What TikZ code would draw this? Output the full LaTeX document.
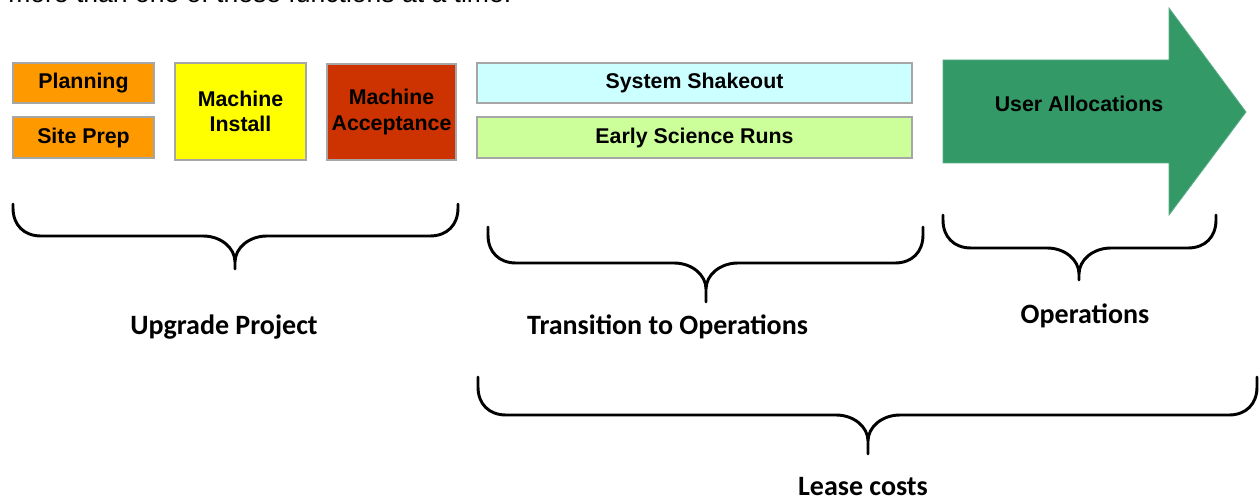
\documentclass[tikz,border=0pt]{standalone}
\usepackage{fontspec}
\setmainfont{Liberation Sans}
\newfontfamily\lblfont{Carlito}
\definecolor{orangeC}{HTML}{FF9900}
\definecolor{yellowC}{HTML}{FFFF00}
\definecolor{redC}{HTML}{CC3300}
\definecolor{cyanC}{HTML}{CCFFFF}
\definecolor{limeC}{HTML}{CCFF99}
\definecolor{greenC}{HTML}{339966}
\definecolor{borderC}{HTML}{A6A6A6}
\newcommand{\mybrace}[6]{% x0 x1 xm top line tip
  \draw[bracestyle] (#1,#4) -- (#1,{#5-28}) .. controls (#1,{#5-11}) and ({#1+11},#5) .. ({#1+28},#5)
    -- ({#3-32},#5) .. controls ({#3-14},#5) and (#3,{#5+12}) .. (#3,{#5+26}) -- (#3,#6)
    -- (#3,{#5+26}) .. controls (#3,{#5+12}) and ({#3+14},#5) .. ({#3+32},#5)
    -- ({#2-28},#5) .. controls ({#2-11},#5) and (#2,{#5-11}) .. (#2,{#5-28}) -- (#2,#4);}
\begin{document}
\begin{tikzpicture}[x=0.75pt,y=-0.75pt,
  box/.style={draw=borderC,line width=0.8pt,inner sep=0pt,align=center,
    font=\fontsize{16}{19}\selectfont\bfseries},
  bracestyle/.style={line width=2.2pt,line join=round,line cap=round},
  lbl/.style={inner sep=0pt,font=\lblfont\fontsize{21}{25}\selectfont\bfseries}]
\useasboundingbox (0,0) rectangle (1260,502);
\begin{scope}
\clip (0,0) rectangle (1260,502);
\node[anchor=base west,inner sep=0pt,font=\fontsize{19.9}{24}\selectfont] (top) at (8,3) {more than one of these functions at a time.};
\end{scope}
\node[box,fill=orangeC,minimum width=105.75pt,minimum height=30pt] (plan) at (83.5,83) {Planning};
\node[box,fill=orangeC,minimum width=105.75pt,minimum height=30.75pt] (site) at (83.5,137.5) {Site Prep};
\node[box,fill=yellowC,minimum width=98.25pt,minimum height=72.75pt] (inst) at (240.5,111.5) {Machine\\Install};
\node[box,fill=redC,minimum width=96.75pt,minimum height=72pt] (acc) at (391.5,112) {Machine\\Acceptance};
\node[box,fill=cyanC,minimum width=326.25pt,minimum height=30pt] (shake) at (694.5,83) {System Shakeout};
\node[box,fill=limeC,minimum width=326.25pt,minimum height=30.75pt] (early) at (694.5,137.5) {Early Science Runs};
\draw[fill=greenC,draw=greenC!80!white,line width=0.6pt] (943,60) -- (1169,60) -- (1169,8) -- (1246,112) -- (1169,215) -- (1169,163) -- (943,163) -- cycle;
\node[inner sep=0pt,font=\fontsize{16}{19}\selectfont\bfseries] (user) at (1079,104) {User Allocations};
\mybrace{13}{458}{235}{204}{236}{269}
\mybrace{488}{923}{706}{227}{263}{302}
\mybrace{943}{1216}{1079}{215}{248}{280}
\mybrace{478}{1257}{868}{377}{415}{454}
\node[lbl] (up) at (224,327) {Upgrade Project};
\node[lbl] (tr) at (667.5,327) {Transition to Operations};
\node[lbl] (op) at (1085,316) {Operations};
\node[lbl] (lc) at (863,487) {Lease costs};
\end{tikzpicture}
\end{document}
